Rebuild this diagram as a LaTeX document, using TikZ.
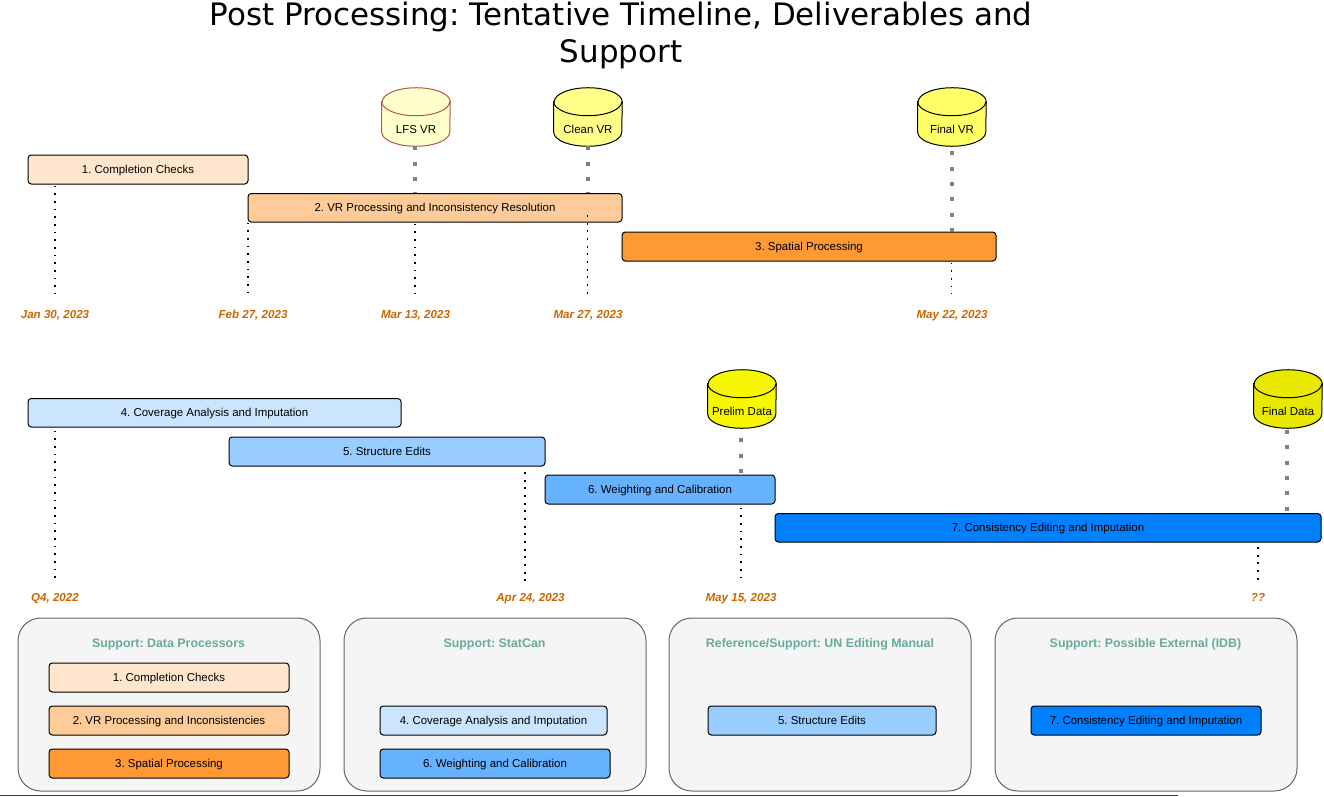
\documentclass[tikz,border=0pt]{standalone}
\usepackage{fontspec}
\setmainfont{Liberation Sans}
\newfontfamily\titlefont{DejaVu Sans}
\usetikzlibrary{calc}
\definecolor{c1}{HTML}{FFE6CC}\definecolor{c2}{HTML}{FFCC99}\definecolor{c3}{HTML}{FF9933}
\definecolor{c4}{HTML}{CCE5FF}\definecolor{c5}{HTML}{99CCFF}\definecolor{c6}{HTML}{66B2FF}\definecolor{c7}{HTML}{007FFF}
\definecolor{datecol}{HTML}{CC6600}\definecolor{teal}{HTML}{67AB9F}
\definecolor{y1}{HTML}{FFFFCC}\definecolor{y2}{HTML}{FFFF88}\definecolor{y3}{HTML}{FFFF66}\definecolor{y4}{HTML}{F7F700}\definecolor{y5}{HTML}{E8E800}
\definecolor{lfsline}{HTML}{B85450}\definecolor{edgeline}{HTML}{2A3A55}
\tikzset{
 x=0.75pt,y=-0.75pt,
 taskbox/.style={draw=black,line width=0.75pt,rounded corners=2.5pt,inner sep=0pt,font=\fontsize{8.6pt}{10pt}\selectfont,text=black,text height=6.2pt,text depth=0pt},
 datelbl/.style={inner sep=0pt,font=\fontsize{8.7pt}{10pt}\selectfont\bfseries\itshape,text=datecol,text height=6.2pt,text depth=0pt},
 panel/.style={draw=black!60,fill=black!4,line width=0.75pt,rounded corners=17pt},
 paneltitle/.style={inner sep=0pt,font=\fontsize{9.3pt}{11pt}\selectfont\bfseries,text=teal,text height=6.6pt,text depth=0pt},
 storelbl/.style={inner sep=0pt,font=\fontsize{8.6pt}{10pt}\selectfont,text height=6.2pt,text depth=0pt},
 storebox/.style={inner sep=0pt,minimum width=51pt,minimum height=43.5pt},
 storeline/.style={line width=0.75pt},
 blackdots/.style={line width=1.4pt,dash pattern=on 1.4pt off 4.35pt,black},
 greydots/.style={line width=3pt,dash pattern=on 3pt off 8.5pt,black!50},
}
\newcommand{\tbar}[7]{% name, x1,y1,x2,y2, colour, text
 \node[taskbox,fill=#6,minimum width={(#4-#2)*0.75pt},minimum height={(#5-#3)*0.75pt}] (#1) at ({(#2+#4)/2},{(#3+#5)/2}) {#7};}
\newcommand{\tstore}[6]{% name, cx, top y, fill, line, text
 \node[storebox] (#1) at (#2,{#3+29}) {};
 \path[storeline,draw=#5,fill=#4] (#1.north west) ++(0,14) -- ($(#1.south west)+(0,-14)$)
   arc[start angle=180,end angle=360,x radius=25.5pt,y radius=10.5pt]
   -- ($(#1.north east)+(0,14)$)
   arc[start angle=0,end angle=180,x radius=25.5pt,y radius=10.5pt] -- cycle;
 \draw[storeline,draw=#5] (#1.north west) ++(0,14) arc[start angle=180,end angle=360,x radius=25.5pt,y radius=10.5pt];
 \node[storelbl] (#1t) at (#2,{#3+41}) {#6};}
\begin{document}
\frenchspacing
\begin{tikzpicture}
\useasboundingbox (0,0) rectangle (1324,796);
\fill[edgeline] (0,795) rectangle (1178,796);
\node[inner sep=0pt,font=\titlefont\fontsize{23.2pt}{27.75pt}\selectfont,align=center] (title) at (621,35.5) {Post Processing: Tentative Timeline, Deliverables and\\Support};
% stores
\tstore{lfs}{416}{88}{y1}{lfsline}{LFS VR}
\tstore{clean}{588}{88}{y2}{black}{Clean VR}
\tstore{finalvr}{952}{88}{y3}{black}{Final VR}
\tstore{prelim}{742}{370}{y4}{black}{Prelim Data}
\tstore{finaldata}{1288}{370}{y5}{black}{Final Data}
% bars
\tbar{b1}{28}{155}{248}{184}{c1}{1. Completion Checks}
\tbar{b2}{248}{193.5}{622}{222}{c2}{2. VR Processing and Inconsistency Resolution}
\tbar{b3}{622}{232}{996}{261}{c3}{3. Spatial Processing}
\tbar{b4}{28}{398.5}{401}{427}{c4}{4. Coverage Analysis and Imputation}
\tbar{b5}{229}{437}{545}{466}{c5}{5. Structure Edits}
\tbar{b6}{545}{475}{775}{504}{c6}{6. Weighting and Calibration}
\tbar{b7}{775}{513.5}{1321}{542}{c7}{7. Consistency Editing and Imputation}
% dates
\node[datelbl] (d1) at (55,314) {Jan 30, 2023};
\node[datelbl] (d2) at (253,314) {Feb 27, 2023};
\node[datelbl] (d3) at (415.5,314) {Mar 13, 2023};
\node[datelbl] (d4) at (588,314) {Mar 27, 2023};
\node[datelbl] (d5) at (952,314) {May 22, 2023};
\node[datelbl] (d6) at (55,597) {Q4, 2022};
\node[datelbl] (d7) at (530.5,597) {Apr 24, 2023};
\node[datelbl] (d8) at (741,597) {May 15, 2023};
\node[datelbl] (d9) at (1258,597) {??};
% free ends of the dotted lines
\coordinate (e1) at (55,294);\coordinate (e2) at (248,294);\coordinate (e3) at (415,294);\coordinate (e4) at (587.5,294);\coordinate (e5) at (951.5,294);
\coordinate (e6) at (55,581);\coordinate (e7) at (525,581);\coordinate (e8) at (741,581);\coordinate (e9) at (1258,581);
\coordinate (s4) at (587.5,215);\coordinate (s7) at (525,472);\coordinate (s9) at (1258,547);
\draw[blackdots] (e1 |- b1.south) ++(0,1) -- (e1);
\draw[blackdots] (e2 |- b2.south) -- (e2);
\draw[blackdots] (e3 |- b2.south) ++(0,1) -- (e3);
\draw[blackdots] (s4) -- (e4);
\draw[blackdots] (e5 |- b3.south) ++(0,1) -- (e5);
\draw[blackdots] (e6 |- b4.south) ++(0,3) -- (e6);
\draw[blackdots] (s7) -- (e7);
\draw[blackdots] (e8 |- b6.south) ++(0,3) -- (e8);
\draw[blackdots] (s9) -- (e9);
% grey dotted lines from stores to bars
\draw[greydots] (e3 |- lfs.south) -- (e3 |- b2.north);
\draw[greydots] (e4 |- clean.south) -- (e4 |- b2.north);
\draw[greydots] (e5 |- finalvr.south) ++(0,5) -- (e5 |- b3.north);
\draw[greydots] (e8 |- prelim.south) ++(0,10) -- (e8 |- b6.north);
\coordinate (g9) at (1287,429);
\draw[greydots] (g9) ++(0,1) -- (g9 |- b7.north);
% panels
\draw[panel] (18,618) rectangle (320,791);
\draw[panel] (344,618) rectangle (646,791);
\draw[panel] (669,618) rectangle (971,791);
\draw[panel] (995,618) rectangle (1297,791);
\node[paneltitle] (t1) at (168.5,643) {Support: Data Processors};
\node[paneltitle] (t2) at (494.5,643) {Support: StatCan};
\node[paneltitle] (t3) at (820,643) {Reference/Support: UN Editing Manual};
\node[paneltitle] (t4) at (1145.5,643) {Support: Possible External (IDB)};
\tbar{p1}{49}{663}{289}{692}{c1}{1. Completion Checks}
\tbar{p2}{49}{706}{289}{735}{c2}{2. VR Processing and Inconsistencies}
\tbar{p3}{49}{749}{289}{778}{c3}{3. Spatial Processing}
\tbar{p4}{380}{706}{607}{735}{c4}{4. Coverage Analysis and Imputation}
\tbar{p6}{380}{749}{610}{778}{c6}{6. Weighting and Calibration}
\tbar{p5}{708}{706}{936}{735}{c5}{5. Structure Edits}
\tbar{p7}{1031}{706}{1261}{735}{c7}{7. Consistency Editing and Imputation}
\end{tikzpicture}
\end{document}
